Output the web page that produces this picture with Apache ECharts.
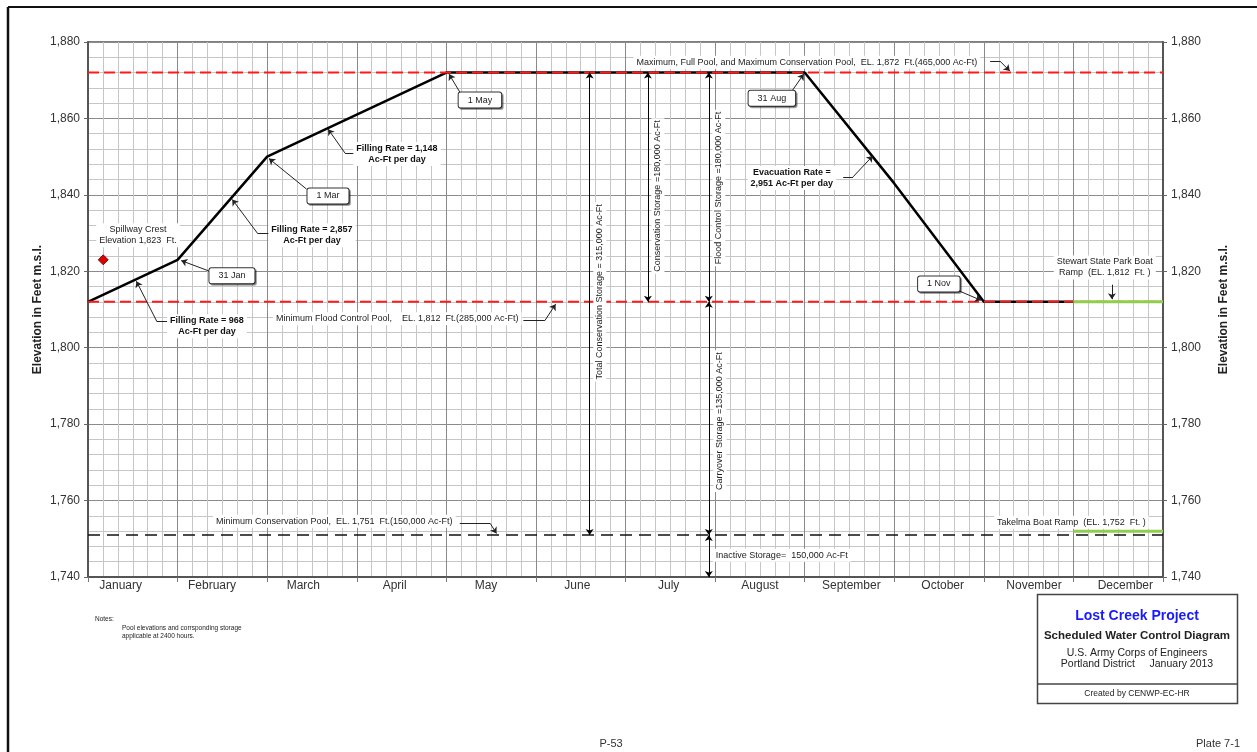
<!DOCTYPE html>
<html><head><meta charset="utf-8">
<script src="https://cdn.jsdelivr.net/npm/echarts@6/dist/echarts.min.js"></script>
<style>html,body{margin:0;padding:0;background:#fff}#c{width:1257px;height:752px}</style>
</head><body><div id="c"></div>
<script>
// ---------------- data ----------------
const months = ['January','February','March','April','May','June','July','August','September','October','November','December'];
// rule curve: x in months from 1 Jan (0..12), elevation in ft
const ruleMonth = [0, 1, 2, 3, 4, 8, 9, 10, 11];
const ruleElev  = [1812, 1823, 1850, 1861, 1872, 1872, 1843, 1812, 1812];
const maxPoolElev = 1872;
const minFloodElev = 1812;
const minConsElev = 1751;
const stewartRamp = { from: 11, to: 12, elev: 1812 };
const takelmaRamp = { from: 11, to: 12, elev: 1752 };
const spillwayCrest = [0.17, 1823];
const yMin = 1740, yMax = 1880, yStep = 20;
// storage dimension arrows [x, from, to]
const storageArrows = [[5.6, 1872, 1751], [6.25, 1872, 1812], [6.93, 1872, 1812], [6.93, 1812, 1751], [6.93, 1751, 1740]];
// callout leader lines (data coordinates), arrow at the last point
const leaders = [
  [[10.07,1875],[10.18,1875],[10.29,1872.4]],
  [[4.86,1807.1],[5.10,1807.1],[5.22,1811.4]],
  [[4.15,1754],[4.49,1754],[4.56,1751.4]],
  [[11.43,1816.5],[11.43,1812.7]],
  [[0.92,1806.8],[0.77,1806.8],[0.54,1817.4]],
  [[1.37,1819.9],[1.04,1822.8]],
  [[2.03,1830.0],[1.89,1830.0],[1.61,1838.8]],
  [[2.44,1841.5],[2.02,1849.5]],
  [[2.99,1850.9],[2.87,1850.9],[2.68,1857.2]],
  [[4.15,1866.9],[4.03,1871.6]],
  [[7.85,1866.9],[7.99,1871.6]],
  [[8.43,1844.7],[8.54,1844.7],[8.76,1850.2]],
  [[9.72,1814.9],[9.97,1812.4]]
];
const poolNotes = [
  {t:'Maximum, Full Pool, and Maximum Conservation Pool,  EL. 1,872  Ft.(465,000 Ac-Ft)', x:6.09, y:1874.7, a:'left'},
  {t:'Minimum Flood Control Pool,    EL. 1,812  Ft.(285,000 Ac-Ft)', x:2.065, y:1807.6, a:'left'},
  {t:'Minimum Conservation Pool,  EL. 1,751  Ft.(150,000 Ac-Ft)', x:1.395, y:1754.6, a:'left'},
  {t:'Takelma Boat Ramp  (EL. 1,752  Ft. )', x:11.84, y:1754.3, a:'right'},
  {t:'Stewart State Park Boat\nRamp  (EL. 1,812  Ft. )', x:11.35, y:1821.0, a:'center'},
  {t:'Spillway Crest\nElevation 1,823  Ft.', x:0.558, y:1829.4, a:'center'},
  {t:'Inactive Storage=  150,000 Ac-Ft', x:6.975, y:1745.7, a:'left'}
];
const rateNotes = [
  {t:'Filling Rate = 968\nAc-Ft per day', x:1.328, y:1805.6},
  {t:'Filling Rate = 2,857\nAc-Ft per day', x:2.5, y:1829.4},
  {t:'Filling Rate = 1,148\nAc-Ft per day', x:3.449, y:1850.7},
  {t:'Evacuation Rate =\n2,951 Ac-Ft per day', x:7.857, y:1844.4}
];
const dateBoxes = [
  {t:'31 Jan', x:1.607, y:1818.8},
  {t:'1 Mar', x:2.679, y:1839.7},
  {t:'1 May', x:4.375, y:1864.8},
  {t:'31 Aug', x:7.634, y:1865.3},
  {t:'1 Nov', x:9.498, y:1816.7}
];
const storageNotes = [
  {t:'Total Conservation Storage = 315,000 Ac-Ft', x:5.714, y:1814.6},
  {t:'Conservation Storage =180,000 Ac-Ft', x:6.362, y:1839.7},
  {t:'Flood Control Storage =180,000 Ac-Ft', x:7.042, y:1841.8},
  {t:'Carryover Storage =135,000 Ac-Ft', x:7.054, y:1780.8}
];

// ---------------- chart ----------------
const FONT = '"Liberation Sans", Arial, sans-serif';
const chart = echarts.init(document.getElementById('c'), null, {renderer:'canvas'});
const fmt = v => v.toLocaleString('en-US');
const yAxisBase = {
  type:'value', min:yMin, max:yMax, interval:yStep, gridIndex:0,
  axisLine:{show:true, lineStyle:{color:'#555', width:2}},
  axisTick:{show:true, length:4, lineStyle:{color:'#666'}},
  axisLabel:{fontSize:12, color:'#333', fontFamily:FONT, formatter:fmt},
  splitLine:{show:true, lineStyle:{color:'#8a8a8a', width:1}},
  minorTick:{show:false, splitNumber:5},
  minorSplitLine:{show:true, lineStyle:{color:'#c6c6c6', width:1}},
  name:'Elevation in Feet m.s.l.', nameLocation:'middle', nameRotate:90,
  nameTextStyle:{fontSize:12, fontWeight:'bold', color:'#222', fontFamily:FONT}
};
// split leaders into plain segments and final arrowed segments
const leaderPlain = [], leaderArrow = [];
leaders.forEach(c=>{
  for (let i=0;i<c.length-1;i++){
    const seg = {coords:[c[i], c[i+1]]};
    if (i === c.length-2) leaderArrow.push(seg); else leaderPlain.push(seg);
  }
});
const option = {
  backgroundColor:'#fff',
  animation:false,
  grid:[
    {left:88, right:94, top:42, bottom:175, show:true, borderColor:'#555', borderWidth:1.5},
    {left:75, right:86, top:42, bottom:175, show:false}
  ],
  xAxis:[
    {type:'value', gridIndex:0, min:0, max:12, interval:1,
     axisLine:{show:true, lineStyle:{color:'#555', width:2}},
     axisTick:{show:true, length:5, lineStyle:{color:'#777'}},
     axisLabel:{show:false},
     splitLine:{show:true, lineStyle:{color:'#8a8a8a', width:1}},
     minorTick:{show:false, splitNumber:6},
     minorSplitLine:{show:true, lineStyle:{color:'#c6c6c6', width:1}}},
    {type:'category', gridIndex:1, data:months, boundaryGap:true,
     axisLine:{show:false}, axisTick:{show:false}, splitLine:{show:false},
     axisLabel:{fontSize:12, color:'#333', fontFamily:FONT, margin:3, interval:0}}
  ],
  yAxis:[
    Object.assign({}, yAxisBase, {position:'left', nameGap:44, nameMoveOverlap:false}),
    Object.assign({}, yAxisBase, {position:'right', nameGap:55, splitLine:{show:false}, minorSplitLine:{show:false}}),
    {type:'value', gridIndex:1, show:false, min:0, max:1}
  ],
  series:[
    {type:'line', name:'rule', xAxisIndex:0, yAxisIndex:0, z:2, symbol:'none',
     data:ruleMonth.map((m,i)=>[m, ruleElev[i]]),
     lineStyle:{color:'#000', width:2.5}},
    {type:'line', name:'max', z:3, symbol:'none', data:[[0,maxPoolElev],[12,maxPoolElev]],
     lineStyle:{color:'#ff1a1a', width:2, type:[11,5]}},
    {type:'line', name:'minflood', z:3, symbol:'none', data:[[0,minFloodElev],[12,minFloodElev]],
     lineStyle:{color:'#ff1a1a', width:2, type:[11,5]}},
    {type:'line', name:'mincons', z:3, symbol:'none', data:[[0,minConsElev],[12,minConsElev]],
     lineStyle:{color:'#111', width:1.6, type:[12,7]}},
    {type:'line', name:'stewart', z:4, symbol:'none', data:[[stewartRamp.from,stewartRamp.elev],[stewartRamp.to,stewartRamp.elev]],
     lineStyle:{color:'#8fcf4c', width:3}},
    {type:'line', name:'takelma', z:4, symbol:'none', data:[[takelmaRamp.from,takelmaRamp.elev],[takelmaRamp.to,takelmaRamp.elev]],
     lineStyle:{color:'#8fcf4c', width:3}},
    {type:'scatter', name:'spillway', z:5, symbol:'diamond', symbolSize:10, data:[spillwayCrest],
     itemStyle:{color:'#e00000', borderColor:'#500', borderWidth:0.8, opacity:1}},
    {type:'lines', coordinateSystem:'cartesian2d', xAxisIndex:0, yAxisIndex:0, z:5,
     symbol:['arrow','arrow'], symbolSize:6,
     data:storageArrows.map(a=>({coords:[[a[0],a[1]],[a[0],a[2]]]})),
     lineStyle:{color:'#000', width:1, opacity:1}},
    {type:'lines', coordinateSystem:'cartesian2d', xAxisIndex:0, yAxisIndex:0, z:5,
     symbol:['none','none'],
     data:leaderPlain,
     lineStyle:{color:'#222', width:1, opacity:1}},
    {type:'lines', coordinateSystem:'cartesian2d', xAxisIndex:0, yAxisIndex:0, z:5,
     symbol:['none','arrow'], symbolSize:6,
     data:leaderArrow,
     lineStyle:{color:'#222', width:1, opacity:1}}
  ]
};
chart.setOption(option);

const px = (x,y) => chart.convertToPixel({xAxisIndex:0, yAxisIndex:0}, [x,y]);
const g = [];
poolNotes.forEach(n=>{
  const p = px(n.x,n.y);
  g.push({type:'text', x:p[0], y:p[1], z:20, style:{text:n.t, fontSize:9, fontFamily:FONT, fill:'#222',
    align:n.a, verticalAlign:'middle', lineHeight:11, backgroundColor:'#fff', padding:[1,3]}});
});
rateNotes.forEach(n=>{
  const p = px(n.x,n.y);
  g.push({type:'text', x:p[0], y:p[1], z:20, style:{text:n.t, fontSize:9, fontWeight:'bold', fontFamily:FONT, fill:'#111',
    align:'center', verticalAlign:'middle', lineHeight:11, backgroundColor:'#fff', padding:[1,3]}});
});
dateBoxes.forEach(n=>{
  const p = px(n.x,n.y);
  g.push({type:'text', x:p[0], y:p[1], z:20, style:{text:n.t, fontSize:9, fontFamily:FONT, fill:'#222',
    align:'center', verticalAlign:'middle', backgroundColor:'#fff', borderColor:'#333', borderWidth:1, borderRadius:2,
    padding:[3,9,3,9], shadowColor:'rgba(0,0,0,0.35)', shadowOffsetX:1.5, shadowOffsetY:1.5}});
});
storageNotes.forEach(n=>{
  const p = px(n.x,n.y);
  g.push({type:'text', x:p[0], y:p[1], rotation:Math.PI/2, z:20, style:{text:n.t, fontSize:9, fontFamily:FONT, fill:'#222',
    align:'center', verticalAlign:'middle', backgroundColor:'#fff', padding:[2,2]}});
});
// page frame, notes and title block
g.push(
  {type:'line', z:30, shape:{x1:8, y1:7, x2:1257, y2:7}, style:{stroke:'#111', lineWidth:2}},
  {type:'line', z:30, shape:{x1:8, y1:7, x2:8, y2:752}, style:{stroke:'#111', lineWidth:2.5}},
  {type:'text', left:95, top:616, style:{text:'Notes:', fontSize:6.5, fontFamily:FONT, fill:'#222'}},
  {type:'text', left:122, top:624, style:{text:'Pool elevations and corrsponding storage\napplicable at 2400 hours.', fontSize:6.5, lineHeight:8, fontFamily:FONT, fill:'#222'}},
  {type:'rect', z:30, shape:{x:1037.5, y:594.5, width:200, height:109}, style:{fill:'#fff', stroke:'#444', lineWidth:1.5}},
  {type:'line', z:31, shape:{x1:1037.5, y1:684, x2:1237.5, y2:684}, style:{stroke:'#444', lineWidth:1.5}},
  {type:'text', z:32, x:1137, y:616, style:{text:'Lost Creek Project', fontSize:14, fontWeight:'bold', fill:'#1a1aff', fontFamily:FONT, align:'center', verticalAlign:'middle'}},
  {type:'text', z:32, x:1137, y:635.5, style:{text:'Scheduled Water Control Diagram', fontSize:11.5, fontWeight:'bold', fill:'#222', fontFamily:FONT, align:'center', verticalAlign:'middle'}},
  {type:'text', z:32, x:1137, y:653, style:{text:'U.S. Army Corps of Engineers', fontSize:10.5, fill:'#222', fontFamily:FONT, align:'center', verticalAlign:'middle'}},
  {type:'text', z:32, x:1137, y:664.5, style:{text:'Portland District     January 2013', fontSize:10.5, fill:'#222', fontFamily:FONT, align:'center', verticalAlign:'middle'}},
  {type:'text', z:32, x:1137, y:694, style:{text:'Created by CENWP-EC-HR', fontSize:8.5, fill:'#222', fontFamily:FONT, align:'center', verticalAlign:'middle'}},
  {type:'text', x:611, y:743.5, style:{text:'P-53', fontSize:11, fill:'#333', fontFamily:FONT, align:'center', verticalAlign:'middle'}},
  {type:'text', x:1218, y:743.5, style:{text:'Plate 7-1', fontSize:11, fill:'#333', fontFamily:FONT, align:'center', verticalAlign:'middle'}}
);
chart.setOption({graphic:{elements:g}});
</script>
</body></html>
